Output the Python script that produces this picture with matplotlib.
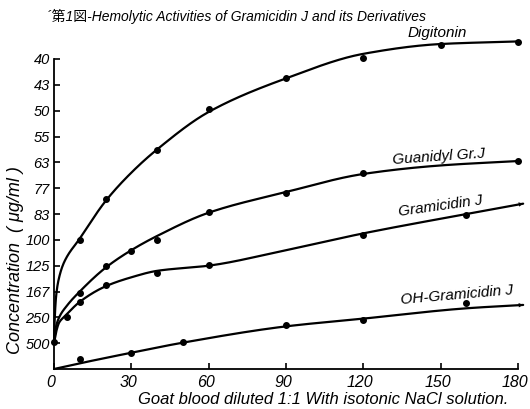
import numpy as np
import matplotlib
matplotlib.use("Agg")
import matplotlib.pyplot as plt
from matplotlib.transforms import ScaledTranslation

# ---- data (y values are positions on the evenly spaced concentration scale) ----
y_tick_labels = ["500", "250", "167", "125", "100", "83", "77", "63", "55", "50", "43", "40"]
x_ticks = [0, 30, 60, 90, 120, 150, 180]

dig_x = [0, 10, 20, 40, 60, 90, 120, 150, 180]
dig_y = [1.05, 4.98, 6.57, 8.48, 10.07, 11.28, 12.04, 12.54, 12.67]
dig_cx = [0, 0.3, 0.9, 2, 4, 10, 20, 30, 40, 60, 90, 120, 150, 180]
dig_cy = [1.0, 2.0, 2.9, 3.55, 4.15, 5.05, 6.5, 7.6, 8.5, 9.95, 11.25, 12.2, 12.58, 12.68]

gua_x = [10, 20, 30, 40, 60, 90, 120, 180]
gua_y = [2.95, 3.99, 4.57, 4.99, 6.08, 6.80, 7.58, 8.06]
gua_cx = [0, 0.7, 2, 5, 10, 20, 30, 40, 60, 90, 120, 150, 180]
gua_cy = [1.0, 1.6, 2.0, 2.45, 3.0, 3.92, 4.6, 5.15, 6.05, 6.85, 7.55, 7.88, 8.05]

gra_x = [5, 10, 20, 40, 60, 120, 160]
gra_y = [2.02, 2.58, 3.25, 3.73, 4.01, 5.19, 5.97]
gra_cx = [0, 1, 2, 4.3, 10, 20, 30, 40, 60, 90, 120, 160, 182]
gra_cy = [1.0, 1.5, 1.8, 2.05, 2.6, 3.2, 3.55, 3.8, 4.0, 4.6, 5.25, 6.0, 6.4]

oh_x = [10, 30, 50, 90, 120, 160]
oh_y = [0.38, 0.63, 1.05, 1.70, 1.90, 2.54]
oh_cx = [0, 10, 30, 50, 90, 120, 160, 182]
oh_cy = [0.0, 0.22, 0.63, 1.02, 1.65, 1.95, 2.35, 2.48]


def pchip(x, y, xs):
    x = np.asarray(x, float); y = np.asarray(y, float)
    h = np.diff(x); d = np.diff(y) / h
    m = np.zeros_like(y)
    for k in range(1, len(x) - 1):
        if d[k - 1] * d[k] > 0:
            w1 = 2 * h[k] + h[k - 1]; w2 = h[k] + 2 * h[k - 1]
            m[k] = (w1 + w2) / (w1 / d[k - 1] + w2 / d[k])
    m[0] = d[0]; m[-1] = d[-1]
    idx = np.clip(np.searchsorted(x, xs) - 1, 0, len(x) - 2)
    t = (xs - x[idx]) / h[idx]
    h00 = 2 * t**3 - 3 * t**2 + 1; h10 = t**3 - 2 * t**2 + t
    h01 = -2 * t**3 + 3 * t**2; h11 = t**3 - t**2
    return h00 * y[idx] + h10 * h[idx] * m[idx] + h01 * y[idx + 1] + h11 * h[idx] * m[idx + 1]


fig = plt.figure(figsize=(5.30, 4.09), dpi=100)
ax = fig.add_axes([54 / 530, 1 - 369 / 409, 464 / 530, 310 / 409])

ital = dict(style="italic", family=["Liberation Sans", "DejaVu Sans"])

curves = [(dig_cx, dig_cy, dig_x, dig_y, False),
          (gua_cx, gua_cy, gua_x, gua_y, False),
          (gra_cx, gra_cy, gra_x, gra_y, True),
          (oh_cx, oh_cy, oh_x, oh_y, True)]
for cx, cy, px, py, arrow in curves:
    xs = np.linspace(cx[0], cx[-1], 1500)
    ys = pchip(cx, cy, xs)
    ax.plot(xs, ys, color="black", lw=1.6, clip_on=False, solid_capstyle="round")
    ax.plot(px, py, "o", color="black", ms=4, clip_on=False)
    if arrow:
        ax.annotate("", xy=(xs[-1], ys[-1]), xytext=(xs[-30], ys[-30]),
                    arrowprops=dict(arrowstyle="-|>", color="black", lw=0,
                                    mutation_scale=8, shrinkA=0, shrinkB=0),
                    annotation_clip=False)

ax.set_xlim(0, 180)
ax.set_ylim(0, 12)
ax.spines["top"].set_visible(False)
ax.spines["right"].set_visible(False)
ax.spines["left"].set_linewidth(1.3)
ax.spines["bottom"].set_linewidth(1.3)
ax.set_xticks(x_ticks)
ax.set_xticklabels([str(v) for v in x_ticks], fontsize=11.5, **ital)
ax.set_yticks(np.arange(1, len(y_tick_labels) + 1))
ax.set_yticklabels(y_tick_labels, fontsize=10.5, **ital)
ax.tick_params(axis="both", direction="in", length=4, width=1.2, color="black")
ax.tick_params(axis="x", pad=4)
ax.tick_params(axis="y", pad=3)
shift = ScaledTranslation(-3 / 100, 0, fig.dpi_scale_trans)
for lab in ax.get_xticklabels():
    lab.set_transform(lab.get_transform() + shift)

ax.text(148.6, 13.0, "Digitonin", fontsize=11, ha="center", va="center", **ital)
ax.text(149.3, 8.2, "Guanidyl Gr.J", fontsize=11, ha="center", va="center", rotation=4, **ital)
ax.text(150.1, 6.3, "Gramicidin J", fontsize=11, ha="center", va="center", rotation=8, **ital)
ax.text(156.3, 2.86, "OH-Gramicidin J", fontsize=11, ha="center", va="center", rotation=5, **ital)

fig.text(47 / 530, 1 - 16 / 409, "\u00b4第1図-Hemolytic Activities of Gramicidin J and its Derivatives",
         fontsize=10, style="italic", family=["Liberation Sans", "Noto Sans CJK JP"],
         ha="left", va="center")
fig.text(323 / 530, 1 - 400 / 409, "Goat blood diluted 1:1 With isotonic NaCl solution.",
         fontsize=12, ha="center", va="center", **ital)
fig.text(16 / 530, 1 - 260 / 409, "Concentration  ( μg/ml )", fontsize=13, rotation=90,
         ha="center", va="center", **ital)

fig.savefig("out.png", dpi=100)
